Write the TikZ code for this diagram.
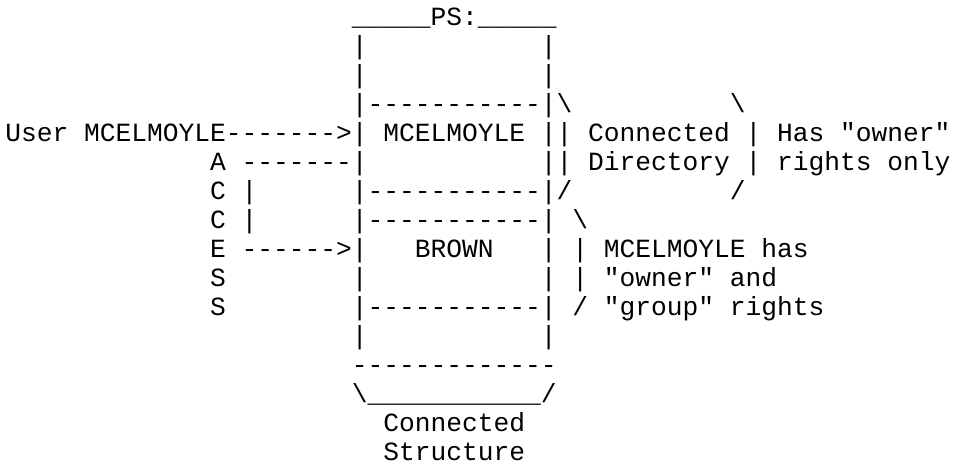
\documentclass[tikz,border=0pt]{standalone}
\usepackage{fontspec}
\setmonofont{Liberation Mono}
\newcommand{\asciifont}{\ttfamily\fontsize{13.125pt}{14.5pt}\selectfont}
\newcommand{\bsl}{\textbackslash}

\begin{document}
\begin{tikzpicture}[x=7.875pt, y=-14.5pt,
    every node/.style={font=\asciifont, anchor=base west, inner sep=0pt}]

    \useasboundingbox (-2.5pt,12.75pt) rectangle (474pt,-221.25pt);

    \node (ps) at (22,0) {\_\_\_\_\_PS:\_\_\_\_\_};
    \foreach \r in {1,2,11} {
        \node (left\r) at (22,\r) {|};
        \node (right\r) at (34,\r) {|};
    }

    \node (sep3) at (22,3) {|-----------|\bsl};
    \node (dirtop) at (46,3) {\bsl};

    \node (user) at (0,4) {User MCELMOYLE------->|};
    \node (mcelmoyle) at (24,4) {MCELMOYLE};
    \node (bar4) at (34,4) {||};
    \node (conn) at (37,4) {Connected};
    \node (dirbar4) at (47,4) {|};
    \node (owner1) at (49,4) {Has "owner"};

    \foreach \ch [count=\r from 5] in {A,C,C,E,S,S}
        \node (access\r) at (13,\r) {\ch};
    \node (arrowa) at (15,5) {-------|};
    \node (bar5) at (34,5) {||};
    \node (dir) at (37,5) {Directory};
    \node (dirbar5) at (47,5) {|};
    \node (owner2) at (49,5) {rights only};

    \node (link6) at (15,6) {|};
    \node (sep6) at (22,6) {|-----------|/};
    \node (dirbot) at (46,6) {/};

    \node (link7) at (15,7) {|};
    \node (sep7) at (22,7) {|-----------|};
    \node (browntop) at (36,7) {\bsl};

    \node (arrowe) at (15,8) {------>|};
    \node (brown) at (26,8) {BROWN};
    \node (right8) at (34,8) {|};
    \node (brownbar8) at (36,8) {|};
    \node (group1) at (38,8) {MCELMOYLE has};

    \node (left9) at (22,9) {|};
    \node (right9) at (34,9) {|};
    \node (brownbar9) at (36,9) {|};
    \node (group2) at (38,9) {"owner" and};

    \node (sep10) at (22,10) {|-----------|};
    \node (brownbot) at (36,10) {/};
    \node (group3) at (38,10) {"group" rights};

    \node (base12) at (22,12) {-------------};
    \node (base13) at (22,13) {\bsl\_\_\_\_\_\_\_\_\_\_\_/};
    \node (struct1) at (24,14) {Connected};
    \node (struct2) at (24,15) {Structure};

\end{tikzpicture}
\end{document}
